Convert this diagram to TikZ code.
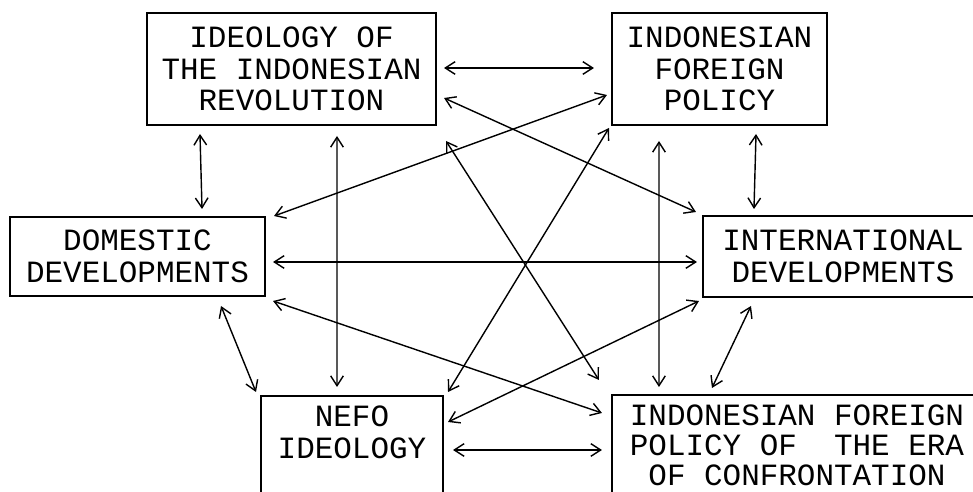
\documentclass[tikz,border=0pt]{standalone}
\usepackage{fontspec}
\setmonofont{Liberation Mono}
\usetikzlibrary{positioning, arrows.meta}
\newcommand{\boxfont}{\ttfamily\fontsize{22}{22.5}\selectfont}

\begin{document}
\begin{tikzpicture}[x=0.025cm, y=0.025cm,
  box/.style={draw, line width=1.4pt, align=center, font=\boxfont, inner sep=0pt},
  openbox/.style={box, anchor=north, inner ysep=7pt, text depth=3cm},
  link/.style={line width=1pt, {Straight Barb[length=7pt,width=9pt]}-{Straight Barb[length=7pt,width=9pt]}}]

\useasboundingbox (0,0) rectangle (973,492);
\clip (0,0) rectangle (973,492);

% Caixas
\node[box, minimum width=7.225cm, minimum height=2.8cm] (ideo) at (291.5,423)
  {IDEOLOGY OF\\THE INDONESIAN\\REVOLUTION};
\node[box, minimum width=5.375cm, minimum height=2.8cm] (ifp) at (719.5,423)
  {INDONESIAN\\FOREIGN\\POLICY};
\node[box, minimum width=6.375cm, minimum height=1.975cm] (dom) at (137.5,235.5)
  {DOMESTIC\\DEVELOPMENTS};
\node[box, minimum width=7cm, minimum height=2.025cm] (intl) at (843,235.5)
  {INTERNATIONAL\\DEVELOPMENTS};
\node[openbox, minimum width=4.55cm] (nefo) at (352,97)
  {NEFO\\IDEOLOGY};
\node[openbox, minimum width=9.25cm, font=\ttfamily\fontsize{22}{21.5}\selectfont] (conf) at (797,98)
  {INDONESIAN FOREIGN\\POLICY OF~ THE ERA\\OF CONFRONTATION};

% Ligações horizontais e verticais
\draw[link] ([shift={(7,1)}]ideo.east) -- ([shift={(-17,1)}]ifp.west);
\draw[link] ([shift={(7,-5.5)}]dom.east) -- ([shift={(-5,-5.5)}]intl.west);
\draw[link] ([shift={(9,-55)}]nefo.north east) -- ([shift={(-9,-56)}]conf.north west);
\draw[link] ([shift={(54,-8)}]ideo.south west) -- ([shift={(-64,7)}]dom.north east);
\draw[link] ([shift={(45.5,-10)}]ideo.south) -- ([shift={(-15,8)}]nefo.north);
\draw[link] ([shift={(48,-15)}]ifp.south west) -- ([shift={(48,7)}]conf.north west);
\draw[link] ([shift={(-72,-8)}]ifp.south east) -- ([shift={(52,6)}]intl.north west);

% Ligações diagonais
\draw[link] ([shift={(-4,-26)}]ifp.west) -- ([shift={(8,0)}]dom.north east);
\draw[link] ([shift={(7,-29)}]ideo.east) -- ([shift={(-6,3)}]intl.north west);
\draw[link] ([shift={(9,-15)}]ideo.south east) -- ([shift={(-12,14)}]conf.north west);
\draw[link] ([shift={(-2,-2)}]ifp.south west) -- ([shift={(4,3)}]nefo.north east);
\draw[link] ([shift={(7,-4)}]dom.south east) -- ([shift={(-9,-19)}]conf.north west);
\draw[link] ([shift={(-45,-9)}]dom.south east) -- ([shift={(-4,3)}]nefo.north west);
\draw[link] ([shift={(-3,-3)}]intl.south west) -- ([shift={(4,-27)}]nefo.north east);
\draw[link] ([shift={(49,-8)}]intl.south west) -- ([shift={(101,6)}]conf.north west);

\end{tikzpicture}
\end{document}
